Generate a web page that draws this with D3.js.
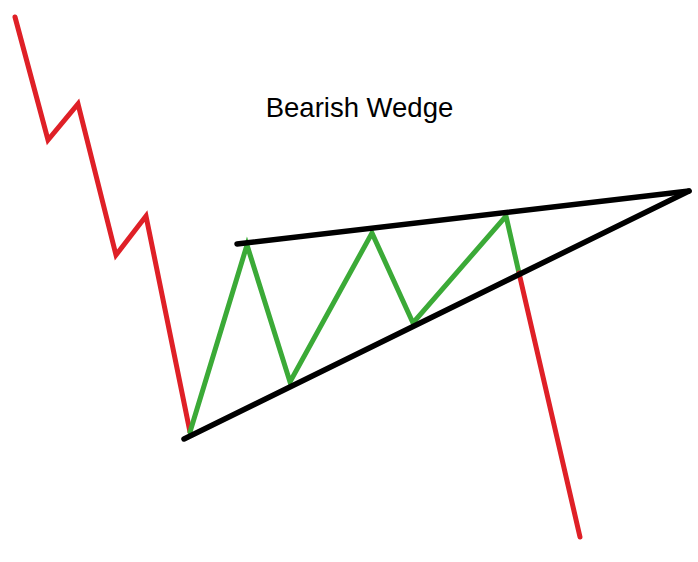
<!DOCTYPE html>
<html>
<head>
<meta charset="utf-8">
<script src="https://cdn.jsdelivr.net/npm/d3@7"></script>
<style>
  html, body { margin: 0; padding: 0; background: #fff; }
  svg { display: block; }
</style>
</head>
<body>
<svg id="chart"></svg>
<script>
// time / price pairs of the sketch
var downTime = [1.5, 4.8, 7.8, 11.6, 14.6, 19.0];
var downPrice = [54.5, 42.2, 45.8, 30.7, 34.6, 13.0];

var wedgeTime = [19.0, 24.7, 29.0, 37.2, 41.3, 50.6, 51.9];
var wedgePrice = [13.0, 31.7, 18.0, 32.9, 23.9, 34.6, 28.9];

var breakTime = [51.9, 58.0];
var breakPrice = [28.9, 2.5];

var supportTime = [18.4, 68.9];
var supportPrice = [12.3, 37.1];

var resistTime = [23.7, 68.9];
var resistPrice = [31.8, 37.1];

var title = 'Bearish Wedge';

var $svg = {width: 698, height: 562};
var $red = '#DF2027';
var $green = '#3BAA37';

function zip (xs, ys) {
    return xs.map((x, i) => ({t: x, p: ys[i]}));
}

var x = d3.scaleLinear().domain([0, 69.8]).range([0, $svg.width]);
var y = d3.scaleLinear().domain([0, 56.2]).range([$svg.height, 0]);

var line = d3.line().x(d => x(d.t)).y(d => y(d.p));

var main = (
    d3.select('svg#chart')
    .attr('width', $svg.width)
    .attr('height', $svg.height)
);

function draw (data, color, width) {
    main.append('path')
        .attr('d', line(data))
        .attr('fill', 'none')
        .attr('stroke', color)
        .attr('stroke-width', width)
        .attr('stroke-linecap', 'round')
        .attr('stroke-linejoin', 'miter');
}

draw(zip(downTime, downPrice), $red, 5);
draw(zip(wedgeTime, wedgePrice), $green, 5);
draw(zip(breakTime, breakPrice), $red, 5);
// trend lines sit on top of the price path
draw(zip(supportTime, supportPrice), '#000', 5.5);
draw(zip(resistTime, resistPrice), '#000', 5.5);

main.append('text')
    .attr('x', 359.5)
    .attr('y', 117)
    .attr('text-anchor', 'middle')
    .attr('font-family', 'Liberation Sans, Arial, sans-serif')
    .attr('font-size', 27.5)
    .attr('fill', '#000')
    .text(title);
</script>
</body>
</html>
